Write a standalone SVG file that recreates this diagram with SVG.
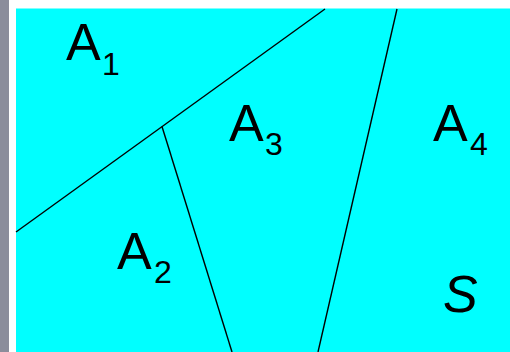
<svg xmlns="http://www.w3.org/2000/svg" width="510" height="352" viewBox="0 0 510 352">
<style>
.lbl{font-family:"Liberation Sans",Arial,sans-serif;fill:#000}
.big{font-size:52px}
.sub{font-size:32px}
.edge{stroke:#000;stroke-width:1.4;fill:none}
</style>
<rect x="0" y="0" width="510" height="352" fill="#fff"/>
<rect x="0" y="0" width="9" height="352" fill="#8b8d9b"/>
<rect x="16" y="8.5" width="494" height="343.5" fill="#00ffff"/>
<g id="connectors">
<line class="edge" x1="16" y1="232" x2="325" y2="9"/>
<line class="edge" x1="162" y1="126.5" x2="232" y2="352"/>
<line class="edge" x1="397" y1="9" x2="318" y2="352"/>
</g>
<g id="A1" class="lbl"><text class="big" x="66" y="60">A</text><text class="sub" x="102" y="75">1</text></g>
<g id="A2" class="lbl"><text class="big" x="117" y="269">A</text><text class="sub" x="154" y="283">2</text></g>
<g id="A3" class="lbl"><text class="big" x="229" y="141">A</text><text class="sub" x="265" y="155">3</text></g>
<g id="A4" class="lbl"><text class="big" x="433" y="141">A</text><text class="sub" x="470" y="155">4</text></g>
<g id="S" class="lbl"><text x="443" y="311.5" font-size="52" font-style="italic">S</text></g>
</svg>
